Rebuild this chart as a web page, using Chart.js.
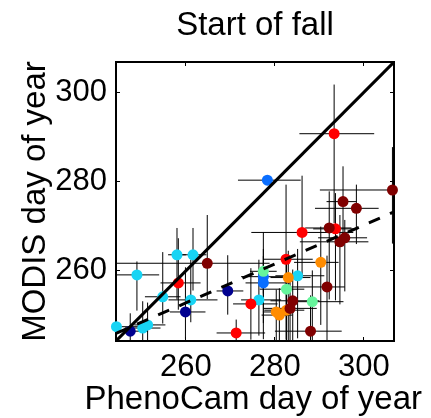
<!DOCTYPE html>
<html><head><meta charset="utf-8">
<script src="https://cdn.jsdelivr.net/npm/chart.js@4/dist/chart.umd.min.js"></script>
<style>html,body{margin:0;padding:0;background:#fff;overflow:hidden}#wrap{width:431px;height:418px}</style>
</head><body><div id="wrap"><canvas id="c" width="431" height="418"></canvas></div>
<script>
// ---- data ----
const chartTitle = 'Start of fall';
const xAxisTitle = 'PhenoCam day of year';
const yAxisTitle = 'MODIS day of year';
const tickValues = [260, 280, 300];
const axisRange = [244.3, 306.75];

const groupColors = ['#00008F', '#0A6EFF', '#18D4F4', '#66F59C', '#FF8C00', '#FF0000', '#800000'];

const phenocamDoy = [247.5,259.9,269.4, 278.3,277.4,277.4, 244.4,250.3,251.4,249.0,254.8,258.0,261.6,261.1,276.4,285.1, 277.4,282.6,288.4, 280.3,281.0,282.6,283.0,290.3, 293.3,286.1,293.6,282.5,274.6,271.3,258.3, 306.4,295.3,298.3,292.2,294.6,295.7,264.8,284.0,283.4,291.7,288.0];
const modisDoy    = [246.5,250.8,255.5, 280.3,258.7,257.3, 247.5,247.2,247.9,259.1,254.2,263.6,263.6,253.5,253.5,258.9, 259.9,255.9,253.1, 250.8,250.1,251.2,258.5,261.9, 290.7,268.6,269.4,262.6,252.6,246.1,257.3, 278.1,275.5,274.0,269.6,266.5,267.4,261.7,253.3,251.6,256.4,246.5];
const siteGroup   = [0,0,0, 1,1,1, 2,2,2,2,2,2,2,2,2,2, 3,3,3, 4,4,4,4,4, 5,5,5,5,5,5,5, 6,6,6,6,6,6,6,6,6,6,6];
const xErrMinus   = [3.5,3.5,2.5, 6.6,5,4, 3,4,3,5,4,2,3,5,4,5, 3,6,5, 3,4,5,4,6, 7.8,11.4,5,5,4,4.4,4, 16.3,3.7,9.3,5.4,9,6,21,5,6,8,8];
const xErrPlus    = [4,4.5,3.5, 7.5,5,6, 5,4,4,5,4,2,3,6,5,6, 3,4,7, 4,3,4,5,4, 9,11.5,5,6,6,6.5,5, 5,3,5,5,6.4,5,14,6,6,4,7];
const yErrMinus   = [3,6,5.3, 0.5,14,9, 3,5,6,8,6,10,8,5,8,14, 5,8,12, 8,9,8,14,14, 20,10,16,18,8,3,6, 12,10,8,16,14,12,8,10,8,12,4];
const yErrPlus    = [4,10,8, 0.5,10,6, 4,6,5,3,10,6,6,9,9,6, 5,6,7, 5,6,4,6,8, 11,12.7,8,16.7,8,3,10, 9.6,7.9,5.3,8.2,6,4,10.8,7,6,7,8];

// 1:1 line and fitted (dashed) line end points
const oneToOneX = [244.3, 306.75];
const oneToOneY = [244.3, 306.75];
const fitX = [244.3, 306.75];
const fitY = [246.0, 273.2];

// ---- build datasets ----
const errPts = [];
phenocamDoy.forEach((x, i) => {
  const y = modisDoy[i];
  errPts.push({x: x - xErrMinus[i], y}, {x: x + xErrPlus[i], y}, {x, y: null});
  errPts.push({x, y: y - yErrMinus[i]}, {x, y: y + yErrPlus[i]}, {x, y: null});
});
const pts = phenocamDoy.map((x, i) => ({x, y: modisDoy[i]}));
const ptColors = siteGroup.map(g => groupColors[g]);

const FF = '"Liberation Sans", Arial, Helvetica, sans-serif';
const fixTicks = s => { s.ticks = tickValues.map(v => ({value: v})); };
const gridOpt = {drawOnChartArea: false, drawTicks: true, tickLength: -4, color: '#000', lineWidth: 1};
const borderOpt = {display: true, color: '#000', width: 2};

new Chart(document.getElementById('c'), {
  type: 'scatter',
  data: {
    datasets: [
      {label: '1:1', data: oneToOneX.map((x, i) => ({x, y: oneToOneY[i]})), showLine: true,
       borderColor: '#000', borderWidth: 3, pointRadius: 0, order: 0, clip: 0, xAxisID: 'x', yAxisID: 'y'},
      {label: 'fit', data: fitX.map((x, i) => ({x, y: fitY[i]})), showLine: true, borderDash: [12, 11],
       borderColor: '#000', borderWidth: 3, pointRadius: 0, order: 0, clip: 0, xAxisID: 'x', yAxisID: 'y'},
      {label: 'sites', data: pts, backgroundColor: ptColors, borderWidth: 0, pointRadius: 5.5,
       order: 1, clip: false, xAxisID: 'x', yAxisID: 'y'},
      {label: 'err', data: errPts, showLine: true, spanGaps: false, borderColor: '#000', borderWidth: 1,
       pointRadius: 0, order: 2, clip: 0, xAxisID: 'x', yAxisID: 'y'}
    ]
  },
  options: {
    responsive: false, animation: false, devicePixelRatio: 1,
    layout: {padding: {left: 0, right: 9, top: 0, bottom: 0}},
    plugins: {
      legend: {display: false}, tooltip: {enabled: false},
      title: {display: true, position: 'bottom', align: 'end', text: xAxisTitle, color: '#000',
              font: {family: FF, size: 33, lineHeight: 1, weight: 'normal'}, padding: {top: 0, bottom: 2}}
    },
    scales: {
      x: {type: 'linear', position: 'bottom', min: axisRange[0], max: axisRange[1],
          afterBuildTicks: fixTicks, afterFit: s => { s.height = 42; },
          border: borderOpt, grid: gridOpt,
          ticks: {color: '#000', font: {family: FF, size: 31}, padding: 12, maxRotation: 0, autoSkip: false}},
      x2: {type: 'linear', position: 'top', min: axisRange[0], max: axisRange[1],
          afterBuildTicks: fixTicks, afterFit: s => { s.height = 62; },
          border: borderOpt, grid: gridOpt, ticks: {display: false},
          title: {display: true, text: chartTitle, color: '#000', font: {family: FF, size: 33, lineHeight: 1}, padding: {top: 9, bottom: 0}}},
      y: {type: 'linear', position: 'left', min: axisRange[0], max: axisRange[1],
          afterBuildTicks: fixTicks, afterFit: s => { s.width = 116; },
          border: borderOpt, grid: gridOpt,
          ticks: {color: '#000', font: {family: FF, size: 31}, padding: 13},
          title: {display: true, text: yAxisTitle, color: '#000', font: {family: FF, size: 33, lineHeight: 1}, padding: {top: 19, bottom: 0}}},
      y2: {type: 'linear', position: 'right', min: axisRange[0], max: axisRange[1],
          afterBuildTicks: fixTicks, afterFit: s => { s.width = 28; },
          border: borderOpt, grid: gridOpt, ticks: {display: false}}
    }
  }
});
</script></body></html>
